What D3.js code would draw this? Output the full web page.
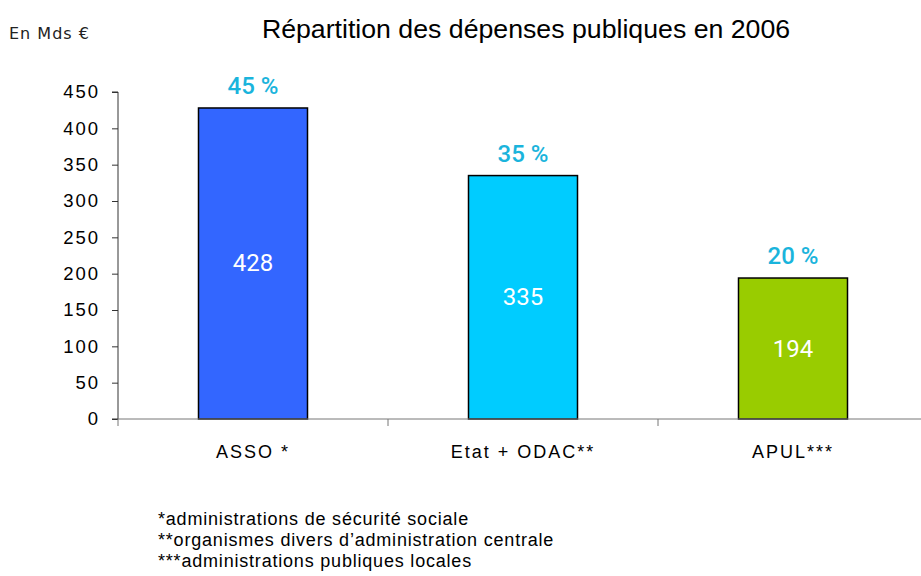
<!DOCTYPE html>
<html>
<head>
<meta charset="utf-8">
<script src="https://cdn.jsdelivr.net/npm/d3@7"></script>
<style>
body{margin:0;background:#fff;}
svg{display:block;}
</style>
</head>
<body>
<div id="chart"></div>
<script>
// donnees
var categories = ['ASSO *', 'Etat + ODAC**', 'APUL***'];
var valeurs = [428, 335, 194];
var parts = ['45 %', '35 %', '20 %'];
var couleurs = ['#3366ff', '#00ccff', '#99cc00'];
var ticks = [0, 50, 100, 150, 200, 250, 300, 350, 400, 450];
var notes = [
	'*administrations de sécurité sociale',
	'**organismes divers d\u2019administration centrale',
	'***administrations publiques locales'
];

var W = 921, H = 576;
var svg = d3.select('#chart').append('svg').attr('width', W).attr('height', H);

var x = d3.scaleBand().domain(categories).range([118, 928]).paddingInner(0).paddingOuter(0);
var y = d3.scaleLinear().domain([0, 450]).range([419, 92]);
var barW = 109;

// titre
svg.append('text')
	.attr('x', 526).attr('y', 38)
	.attr('text-anchor', 'middle')
	.style('font-family', 'Liberation Sans, Arial, sans-serif')
	.style('font-size', '26.7px')
	.text('Répartition des dépenses publiques en 2006');

svg.append('text')
	.attr('x', 9).attr('y', 39)
	.style('font-family', 'DejaVu Sans, sans-serif')
	.style('font-size', '16px')
	.style('letter-spacing', '1px')
	.style('fill', '#222')
	.text('En Mds €');

// axe y
var yAxis = svg.append('g').attr('transform', 'translate(118,0)')
	.call(d3.axisLeft(y).tickValues(ticks).tickSize(6).tickPadding(12));
yAxis.select('.domain').attr('stroke', '#333').attr('d', 'M-6,92H0V419H-6');
yAxis.selectAll('.tick line').attr('stroke', '#333');
yAxis.selectAll('.tick text')
	.style('font-family', 'Liberation Sans, Arial, sans-serif')
	.style('font-size', '18.5px')
	.style('letter-spacing', '2px')
	.style('fill', '#000');

// barres
svg.selectAll('rect.bar').data(valeurs).enter().append('rect')
	.attr('class', 'bar')
	.attr('x', function(d, i){ return x(categories[i]) + (x.bandwidth() - barW) / 2; })
	.attr('y', function(d){ return y(d); })
	.attr('width', barW)
	.attr('height', function(d){ return y(0) - y(d); })
	.style('fill', function(d, i){ return couleurs[i]; })
	.style('stroke', '#000')
	.style('stroke-width', '1.5px');

// axe x
var xAxis = svg.append('g').attr('transform', 'translate(0,419)')
	.call(d3.axisBottom(x).tickSize(0).tickPadding(26));
xAxis.select('.domain').attr('stroke', '#777').attr('d', 'M118,0H928');
xAxis.selectAll('.tick text')
	.style('font-family', 'Liberation Sans, Arial, sans-serif')
	.style('font-size', '18px')
	.style('letter-spacing', '2px')
	.style('fill', '#000');
xAxis.selectAll('line.sep').data(d3.range(categories.length)).enter().append('line')
	.attr('class', 'sep')
	.attr('x1', function(i){ return x(categories[i]); })
	.attr('x2', function(i){ return x(categories[i]); })
	.attr('y1', 0).attr('y2', 7)
	.attr('stroke', '#777');

// etiquettes
svg.selectAll('text.val').data(valeurs).enter().append('text')
	.attr('class', 'val')
	.attr('x', function(d, i){ return x(categories[i]) + x.bandwidth() / 2; })
	.attr('y', function(d){ return (y(d) + y(0)) / 2 + 8; })
	.attr('text-anchor', 'middle')
	.style('font-family', 'Roboto, sans-serif')
	.style('font-size', '24px')
	.style('fill', '#fff')
	.text(function(d){ return d; });

svg.selectAll('text.pct').data(parts).enter().append('text')
	.attr('class', 'pct')
	.attr('x', function(d, i){ return x(categories[i]) + x.bandwidth() / 2; })
	.attr('y', function(d, i){ return y(valeurs[i]) - 14; })
	.attr('text-anchor', 'middle')
	.style('font-family', 'Roboto, sans-serif')
	.style('font-size', '24px')
	.style('font-weight', '500')
	.style('fill', '#1ab4dc')
	.text(function(d){ return d; });

// notes
svg.selectAll('text.note').data(notes).enter().append('text')
	.attr('class', 'note')
	.attr('x', 158)
	.attr('y', function(d, i){ return 525 + i * 21; })
	.style('font-family', 'Liberation Sans, Arial, sans-serif')
	.style('font-size', '18px')
	.style('letter-spacing', '0.8px')
	.style('fill', '#000')
	.text(function(d){ return d; });
</script>
</body>
</html>
